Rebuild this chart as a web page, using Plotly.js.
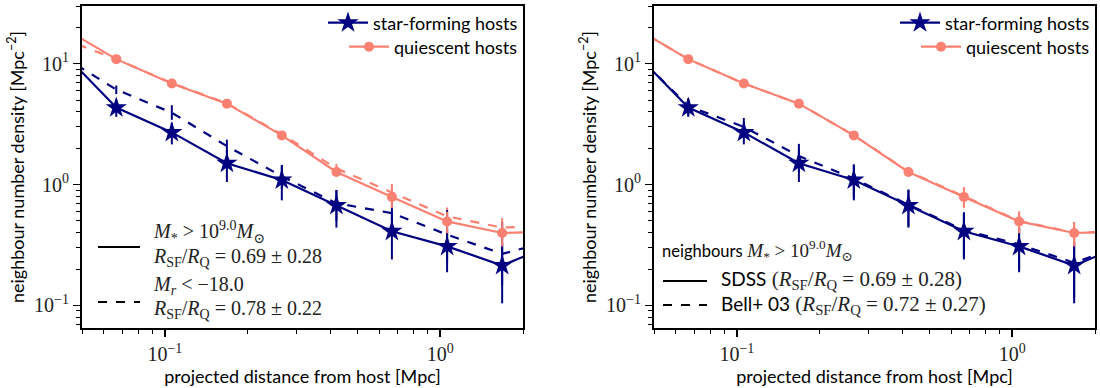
<!DOCTYPE html>
<html>
<head>
<meta charset="utf-8">
<script src="https://cdn.plot.ly/plotly-3.0.1.min.js"></script>
<style>html,body{margin:0;padding:0;background:#fff;}#chart{width:1100px;height:388px;}</style>
</head>
<body>
<div id="chart"></div>
<script>
// ---- data ----
const radius = [0.042, 0.0666, 0.106, 0.168, 0.266, 0.42, 0.668, 1.06, 1.68, 2.66];

// star-forming hosts, SDSS, neighbours M* > 10^9
const sfMass     = [12.8, 4.33, 2.70, 1.50, 1.09, 0.67, 0.41, 0.308, 0.214, 0.33];
const sfMassErr  = [0, 0.70, 0.55, 0.45, 0.35, 0.23, 0.17, 0.12, 0.11, 0];
// quiescent hosts, SDSS, neighbours M* > 10^9
const qMass      = [20.2, 10.9, 6.85, 4.67, 2.55, 1.27, 0.79, 0.495, 0.397, 0.41];
const qMassErr   = [0, 0.30, 0.20, 0.15, 0.12, 0.10, 0.15, 0.10, 0.09, 0];

// left panel dashed: neighbours M_r < -18
const sfMag        = [11.7, 6.1, 3.93, 2.08, 1.17, 0.70, 0.58, 0.385, 0.267, 0.35];
const sfMagErrUp   = [0, 0.50, 0.60, 0.27, 0.28, 0.20, 0.28, 0.23, 0.22, 0];
const sfMagErrDown = [0, 0.50, 0.50, 0.30, 0.25, 0.20, 0.20, 0.15, 0.12, 0];
const qMag         = [16.3, 10.9, 6.9, 4.7, 2.6, 1.36, 0.86, 0.546, 0.44, 0.46];
const qMagErr      = [0, 0.30, 0.20, 0.15, 0.12, 0.12, 0.15, 0.10, 0.09, 0];

// right panel dashed: Bell+03 masses
const sfBell     = [12.6, 4.45, 3.0, 1.72, 1.12, 0.68, 0.42, 0.32, 0.225, 0.33];
const sfBellErr  = [0, 0.70, 0.55, 0.45, 0.35, 0.23, 0.17, 0.12, 0.11, 0];
const qBell      = [20.2, 10.9, 6.85, 4.67, 2.55, 1.28, 0.80, 0.50, 0.40, 0.41];
const qBellErr   = [0, 0.30, 0.20, 0.15, 0.12, 0.10, 0.15, 0.10, 0.09, 0];

const seriesNames = ['star-forming hosts', 'quiescent hosts'];
const xTickVals = [0.1, 1];
const xTickText = ['10<sup>−1</sup>', '10<sup>0</sup>'];
const yTickVals = [0.1, 1, 10];
const yTickText = ['10<sup>−1</sup>', '10<sup>0</sup>', '10<sup>1</sup>'];
const xTitle = 'projected distance from host [Mpc]';
const yTitle = 'neighbour number density [Mpc<sup>−2</sup>]';

// ---- style ----
const NAVY = '#000080';
const SALMON = '#fa8072';
const SANS = 'Lato, "DejaVu Sans", sans-serif';
const SERIF = '"Liberation Serif", "DejaVu Serif", serif';
const SANS_PX = 18, SERIF_PX = 20;

function minorVals(lo, hi) {
  const v = [];
  for (let d = -3; d <= 2; d++) for (let k = 2; k <= 9; k++) {
    const t = k * Math.pow(10, d);
    if (t >= lo && t <= hi) v.push(t);
  }
  return v;
}

function trace(y, color, dash, sym, size, errUp, errDown, xa, ya, name, legend) {
  const t = {
    x: radius, y: y, xaxis: xa, yaxis: ya, type: 'scatter',
    mode: sym ? 'lines+markers' : 'lines',
    line: {color: color, width: 2.2, dash: dash},
    error_y: {type: 'data', array: errUp, arrayminus: errDown || errUp, symmetric: !errDown,
              color: color, thickness: 2, width: 0, visible: true},
    showlegend: !!name, name: name || '', hoverinfo: 'x+y'
  };
  if (sym) t.marker = {symbol: sym, size: size, color: color, line: {width: 0}};
  if (legend) t.legend = legend;
  return t;
}

const data = [
  // left panel
  trace(qMag, SALMON, 'dash', null, 0, qMagErr, null, 'x', 'y'),
  trace(sfMag, NAVY, 'dash', null, 0, sfMagErrUp, sfMagErrDown, 'x', 'y'),
  trace(sfMass, NAVY, 'solid', 'star', 16, sfMassErr, null, 'x', 'y', seriesNames[0], 'legend'),
  trace(qMass, SALMON, 'solid', 'circle', 10, qMassErr, null, 'x', 'y', seriesNames[1], 'legend2'),
  // right panel
  trace(qBell, SALMON, 'dash', null, 0, qBellErr, null, 'x2', 'y2'),
  trace(sfBell, NAVY, 'dash', null, 0, sfBellErr, null, 'x2', 'y2'),
  trace(sfMass, NAVY, 'solid', 'star', 16, sfMassErr, null, 'x2', 'y2', seriesNames[0], 'legend3'),
  trace(qMass, SALMON, 'solid', 'circle', 10, qMassErr, null, 'x2', 'y2', seriesNames[1], 'legend4')
];

const W = 1100, H = 388;
const xDomL = [82 / W, 523 / W], xDomR = [654 / W, 1095 / W];
const yDom = [(H - 328) / H, (H - 6) / H];
const xRange = [Math.log10(0.05), Math.log10(2.0)];
const yRange = [Math.log10(0.065), Math.log10(30)];

function xaxis(dom, anchor) {
  return {
    type: 'log', domain: dom, range: xRange, anchor: anchor,
    showline: true, linecolor: '#000', linewidth: 2, mirror: true,
    showgrid: false, zeroline: false,
    ticks: 'outside', ticklen: 7, tickwidth: 1.5, tickcolor: '#000',
    tickmode: 'array', tickvals: xTickVals, ticktext: xTickText,
    tickfont: {family: SERIF, size: SERIF_PX, color: '#222'},
    minor: {tickmode: 'array', tickvals: minorVals(0.05, 2.0), ticks: 'outside', ticklen: 4, tickwidth: 1, tickcolor: '#000', showgrid: false},
    title: {text: xTitle, font: {family: SANS, size: SANS_PX, color: '#000'}, standoff: 4}
  };
}
function yaxis(anchor) {
  return {
    type: 'log', domain: yDom, range: yRange, anchor: anchor,
    showline: true, linecolor: '#000', linewidth: 2, mirror: true,
    showgrid: false, zeroline: false,
    ticks: 'outside', ticklen: 7, tickwidth: 1.5, tickcolor: '#000',
    tickmode: 'array', tickvals: yTickVals, ticktext: yTickText,
    tickfont: {family: SERIF, size: SERIF_PX, color: '#222'},
    minor: {tickmode: 'array', tickvals: minorVals(0.065, 30), ticks: 'outside', ticklen: 4, tickwidth: 1, tickcolor: '#000', showgrid: false},
    title: {text: yTitle, font: {family: SANS, size: SANS_PX, color: '#000'}, standoff: 5}
  };
}

function px(x) { return x / W; }
function py(y) { return (H - y) / H; }

function legendAt(xRight, yMid) {
  return {x: px(xRight), xanchor: 'right', y: py(yMid), yanchor: 'middle', bgcolor: 'rgba(0,0,0,0)',
          borderwidth: 0, font: {family: SANS, size: SANS_PX, color: '#000'}, itemwidth: 40};
}
function lineShape(x0, x1, y, dash) {
  return {type: 'line', xref: 'paper', yref: 'paper', x0: px(x0), x1: px(x1), y0: py(y), y1: py(y),
          line: {color: '#000', width: 2.2, dash: dash}};
}
function note(x, y, text, size) {
  return {xref: 'paper', yref: 'paper', x: px(x), y: py(y), xanchor: 'left', yanchor: 'middle',
          text: text, showarrow: false, font: {family: SERIF, size: size, color: '#222'}};
}

const rsf = '<i>R</i><sub>SF</sub>/<i>R</i><sub>Q</sub>';
const mstar = '<i>M</i><sub>*</sub> &gt; 10<sup>9.0</sup><i>M</i><sub>⊙</sub>';
const sansSpan = (t, s) => '<span style="font-family:Lato;font-size:' + s + 'px;color:#000">' + t + '</span>';

const layout = {
  width: W, height: H,
  margin: {l: 0, r: 0, t: 0, b: 0},
  paper_bgcolor: '#fff', plot_bgcolor: '#fff',
  xaxis: xaxis(xDomL, 'y'), yaxis: yaxis('x'),
  xaxis2: xaxis(xDomR, 'y2'), yaxis2: yaxis('x2'),
  legend: legendAt(523, 23),
  legend2: legendAt(523, 47),
  legend3: legendAt(1095, 23),
  legend4: legendAt(1095, 47),
  shapes: [
    lineShape(98, 140, 247, 'solid'),
    lineShape(98, 140, 302, 'dash'),
    lineShape(663, 707, 281, 'solid'),
    lineShape(663, 707, 305, 'dash')
  ],
  annotations: [
    note(151, 232, mstar, SERIF_PX),
    note(151, 257, rsf + ' = 0.69 ± 0.28', SERIF_PX),
    note(151, 285, '<i>M<sub>r</sub></i> &lt; −18.0', SERIF_PX),
    note(151, 309, rsf + ' = 0.78 ± 0.22', SERIF_PX),
    note(660, 251, sansSpan('neighbours', 16.5) + ' ' + mstar, 19),
    note(719, 280, sansSpan('SDSS', 19) + ' (' + rsf + ' = 0.69 ± 0.28)', 21),
    note(719, 305, sansSpan('Bell+ 03', 19) + ' (' + rsf + ' = 0.72 ± 0.27)', 21)
  ]
};

Plotly.newPlot('chart', data, layout, {displayModeBar: false, staticPlot: true});
</script>
</body>
</html>
